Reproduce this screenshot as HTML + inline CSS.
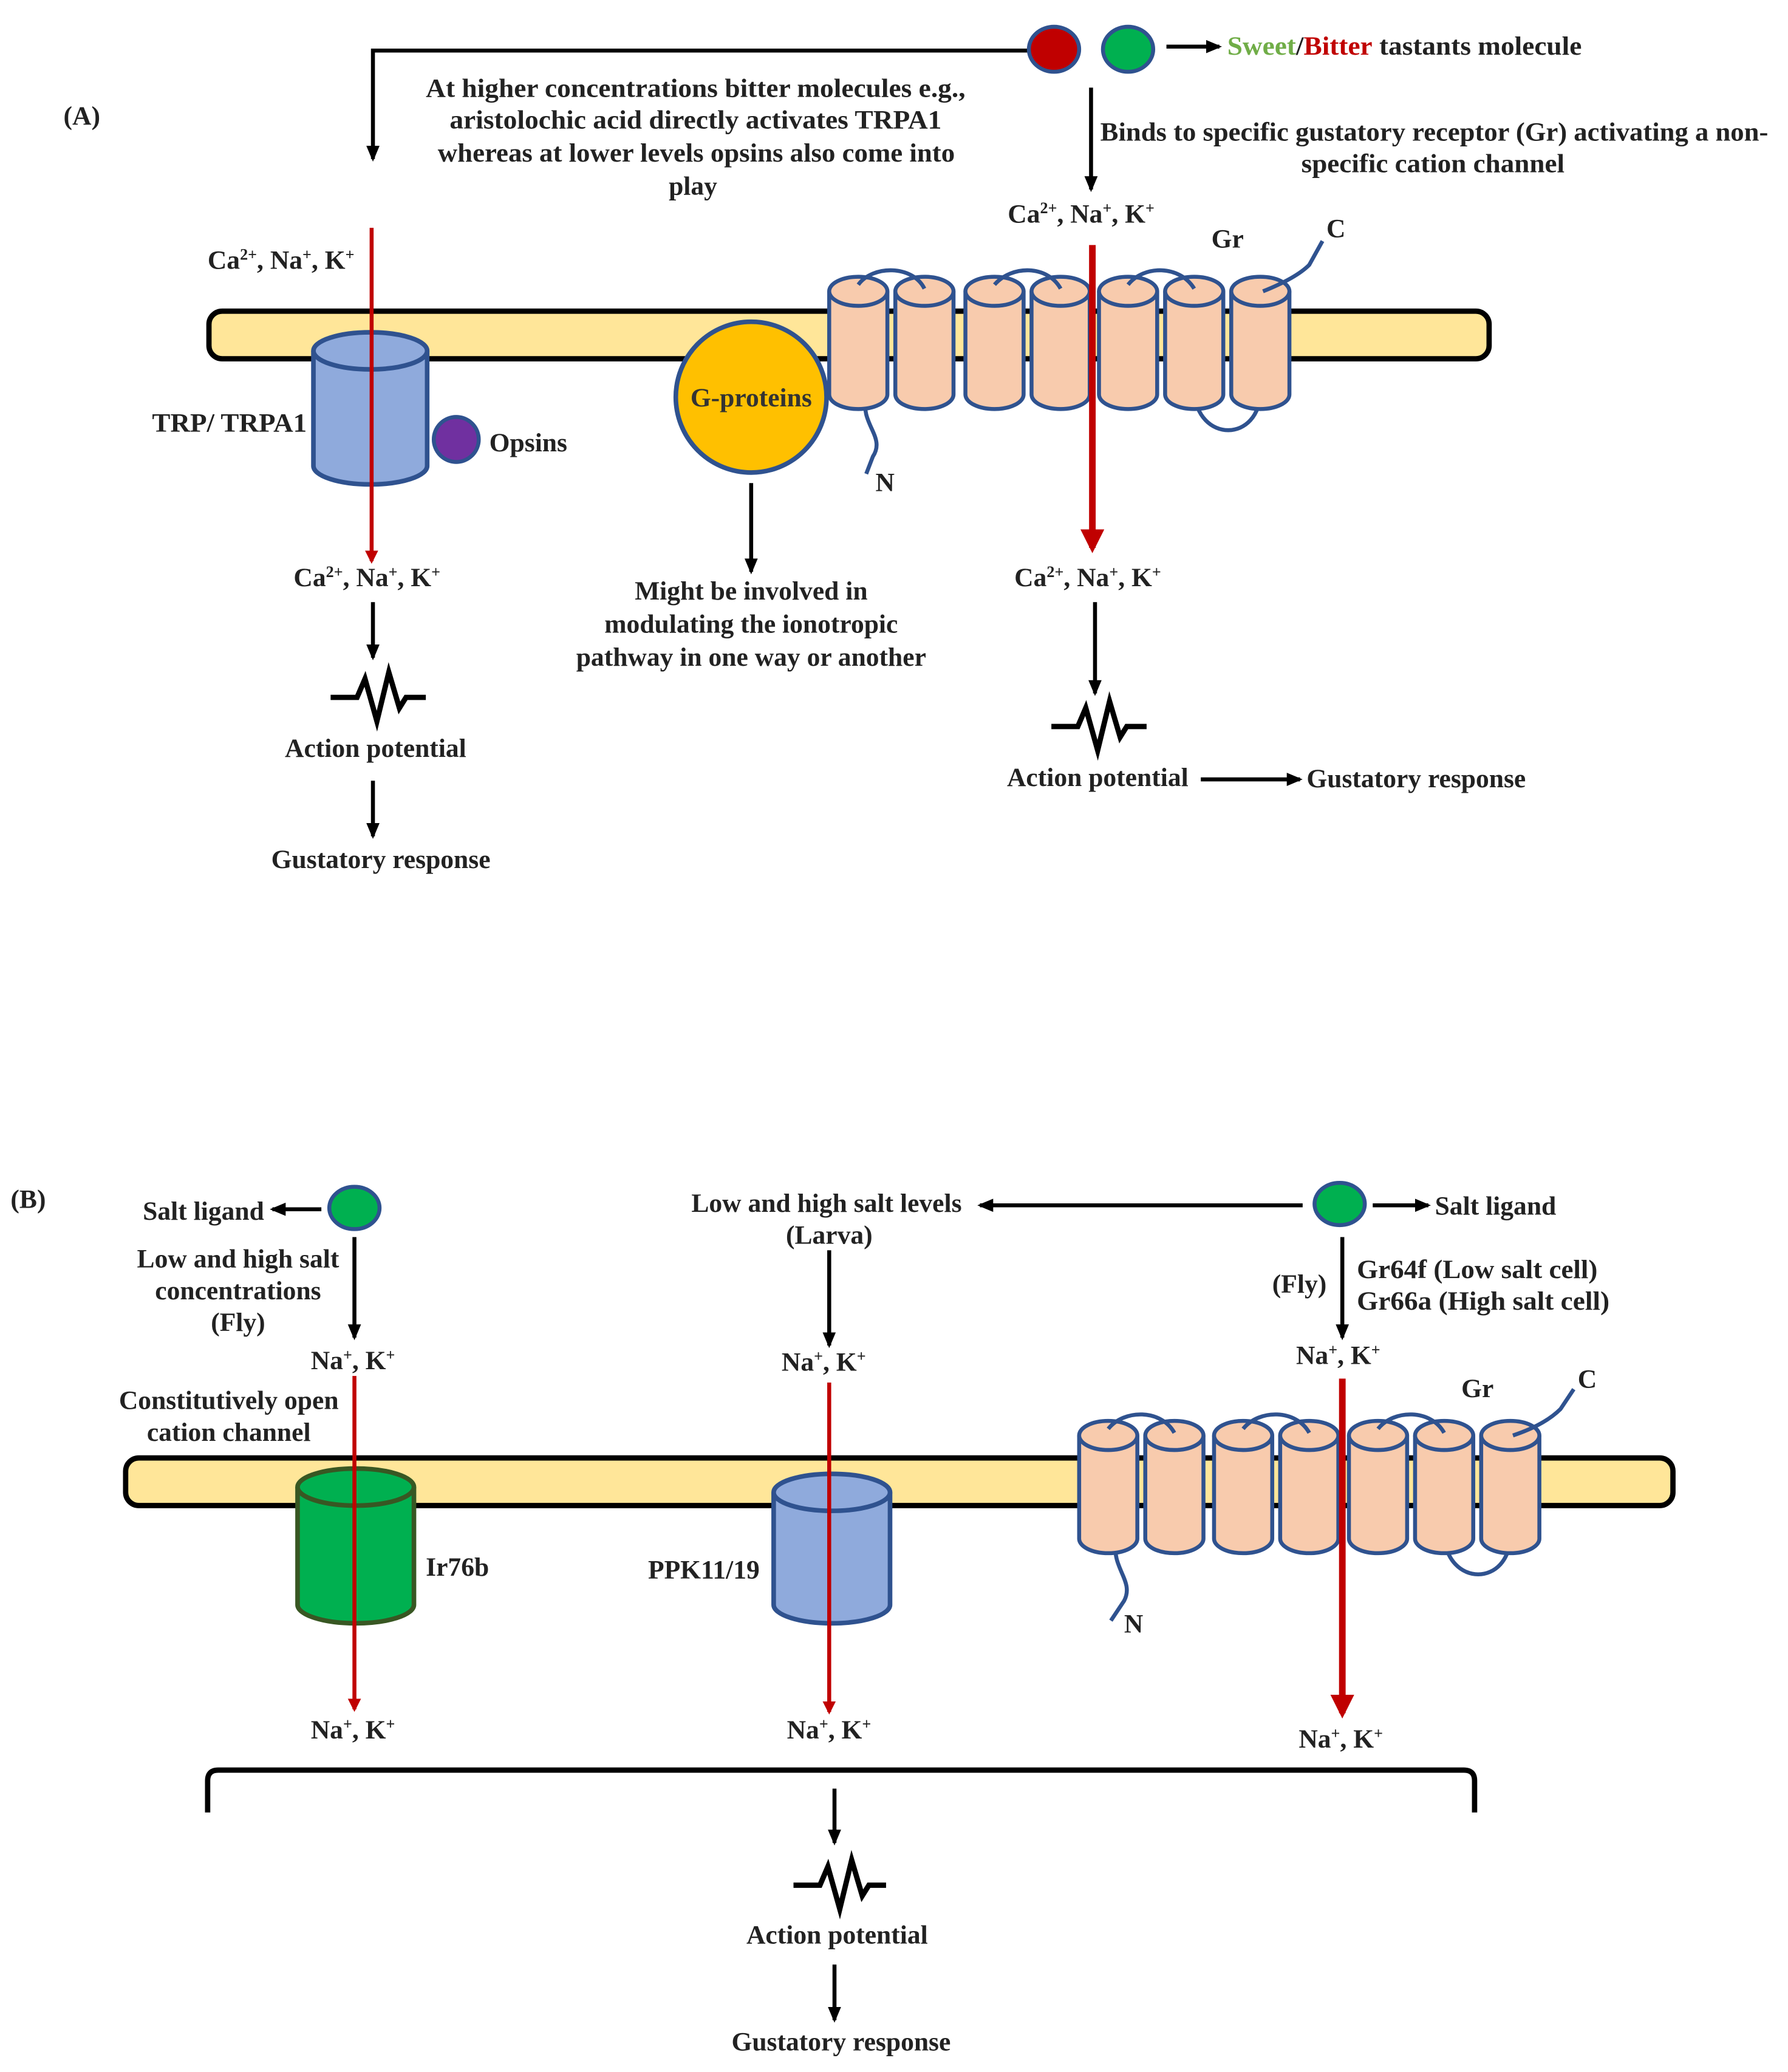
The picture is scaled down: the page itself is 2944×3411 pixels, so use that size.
<!DOCTYPE html>
<html><head><meta charset="utf-8"><style>
html,body{margin:0;padding:0;background:#fff}
svg{display:block}
text{font-family:"Liberation Serif",serif;font-weight:bold;font-size:20px;fill:#222}
</style></head><body>
<svg width="2944" height="3411" viewBox="0 0 1352 1566" xmlns="http://www.w3.org/2000/svg">
<defs>
<marker id="ahk" markerWidth="12" markerHeight="10" refX="10" refY="5" orient="auto" markerUnits="userSpaceOnUse"><path d="M0,0 L12,5 L0,10 z" fill="#000"/></marker>
<marker id="ar" markerWidth="10" markerHeight="10" refX="8" refY="5" orient="auto" markerUnits="userSpaceOnUse"><path d="M0,0 L10,5 L0,10 z" fill="#c00000"/></marker>
<marker id="ar2" markerWidth="18" markerHeight="18" refX="14" refY="9" orient="auto" markerUnits="userSpaceOnUse"><path d="M0,0 L18,9 L0,18 z" fill="#c00000"/></marker>
<g id="grcyl">
<path d="M-22,0 L-22,78 A22,11 0 0 0 22,78 L22,0" fill="#f8cbad" stroke="#2f528f" stroke-width="3"/>
<ellipse cx="0" cy="0" rx="22" ry="11" fill="#f8cbad" stroke="#2f528f" stroke-width="3"/>
</g>
</defs>

<!-- Panel A -->
<text x="48" y="94" font-size="18">(A)</text>
<path d="M780,38 H282 V120" fill="none" stroke="#000" stroke-width="3" marker-end="url(#ahk)"/>
<ellipse cx="797" cy="37" rx="19" ry="17" fill="#c00000" stroke="#2f528f" stroke-width="3"/>
<ellipse cx="853" cy="37" rx="19" ry="17" fill="#00b050" stroke="#2f528f" stroke-width="3"/>
<line x1="882" y1="35" x2="922" y2="35" stroke="#000" stroke-width="3" marker-end="url(#ahk)"/>
<text x="928" y="41" textLength="268" lengthAdjust="spacingAndGlyphs"><tspan style="fill:#70ad47">Sweet</tspan><tspan style="fill:#222">/</tspan><tspan style="fill:#c00000">Bitter</tspan> tastants molecule</text>
<text x="322" y="73" textLength="408" lengthAdjust="spacingAndGlyphs">At higher concentrations bitter molecules e.g.,</text>
<text x="340" y="97" textLength="372" lengthAdjust="spacingAndGlyphs">aristolochic acid directly activates TRPA1</text>
<text x="331" y="122" textLength="391" lengthAdjust="spacingAndGlyphs">whereas at lower levels opsins also come into</text>
<text x="524" y="147" text-anchor="middle">play</text>
<line x1="825" y1="66" x2="825" y2="143" stroke="#000" stroke-width="3" marker-end="url(#ahk)"/>
<text x="832" y="106" textLength="505" lengthAdjust="spacingAndGlyphs">Binds to specific gustatory receptor (Gr) activating a non-</text>
<text x="984" y="130" textLength="199" lengthAdjust="spacingAndGlyphs">specific cation channel</text>
<text x="762" y="168">Ca<tspan font-size="12" dy="-7">2+</tspan><tspan dy="7">, Na</tspan><tspan font-size="12" dy="-7">+</tspan><tspan dy="7">, K</tspan><tspan font-size="12" dy="-7">+</tspan></text>

<rect x="158" y="235" width="968" height="36" rx="10" fill="#ffe699" stroke="#000" stroke-width="4"/>

<path d="M237,265 V352 A43,14 0 0 0 323,352 V265" fill="#8faadc" stroke="#2f528f" stroke-width="3.5"/>
<ellipse cx="280" cy="265" rx="43" ry="14" fill="#8faadc" stroke="#2f528f" stroke-width="3.5"/>
<line x1="281" y1="172" x2="281" y2="424" stroke="#c00000" stroke-width="3" marker-end="url(#ar)"/>
<text x="157" y="203">Ca<tspan font-size="12" dy="-7">2+</tspan><tspan dy="7">, Na</tspan><tspan font-size="12" dy="-7">+</tspan><tspan dy="7">, K</tspan><tspan font-size="12" dy="-7">+</tspan></text>
<text x="115" y="326" textLength="117" lengthAdjust="spacingAndGlyphs">TRP/ TRPA1</text>
<circle cx="345" cy="332" r="17" fill="#7030a0" stroke="#2f528f" stroke-width="3"/>
<text x="370" y="341">Opsins</text>
<text x="222" y="443">Ca<tspan font-size="12" dy="-7">2+</tspan><tspan dy="7">, Na</tspan><tspan font-size="12" dy="-7">+</tspan><tspan dy="7">, K</tspan><tspan font-size="12" dy="-7">+</tspan></text>
<line x1="282" y1="455" x2="282" y2="497" stroke="#000" stroke-width="3" marker-end="url(#ahk)"/>
<path d="M250,527 H270 L276,513 L285,545 L294,508 L302,535 L307,527 H322" fill="none" stroke="#000" stroke-width="4"/>
<text x="284" y="572" text-anchor="middle">Action potential</text>
<line x1="282" y1="590" x2="282" y2="632" stroke="#000" stroke-width="3" marker-end="url(#ahk)"/>
<text x="288" y="656" text-anchor="middle">Gustatory response</text>

<circle cx="568" cy="300" r="57" fill="#ffc000" stroke="#2f528f" stroke-width="3.5"/>
<text x="568" y="307" text-anchor="middle" style="fill:#333">G-proteins</text>
<line x1="568" y1="365" x2="568" y2="432" stroke="#000" stroke-width="3" marker-end="url(#ahk)"/>
<g text-anchor="middle">
<text x="568" y="453">Might be involved in</text>
<text x="568" y="478">modulating the ionotropic</text>
<text x="568" y="503">pathway in one way or another</text>
</g>

<path d="M903,295 C905,335 953,335 953,295" fill="none" stroke="#2f528f" stroke-width="3"/>
<path d="M655,300 C650,320 670,330 660,345 L655,358" fill="none" stroke="#2f528f" stroke-width="3"/>
<use href="#grcyl" x="649" y="220"/>
<use href="#grcyl" x="699" y="220"/>
<use href="#grcyl" x="752" y="220"/>
<use href="#grcyl" x="802" y="220"/>
<use href="#grcyl" x="853" y="220"/>
<use href="#grcyl" x="903" y="220"/>
<use href="#grcyl" x="953" y="220"/>
<path d="M649,215 C660,200 690,200 699,218 M752,215 C765,200 792,200 802,218 M853,215 C865,200 892,200 903,218 M955,220 C975,212 985,205 990,200 L1000,182" fill="none" stroke="#2f528f" stroke-width="3"/>
<text x="662" y="371">N</text>
<text x="1003" y="179">C</text>
<text x="916" y="187">Gr</text>
<line x1="826" y1="185" x2="826" y2="414" stroke="#c00000" stroke-width="5" marker-end="url(#ar2)"/>
<text x="767" y="443">Ca<tspan font-size="12" dy="-7">2+</tspan><tspan dy="7">, Na</tspan><tspan font-size="12" dy="-7">+</tspan><tspan dy="7">, K</tspan><tspan font-size="12" dy="-7">+</tspan></text>
<line x1="828" y1="455" x2="828" y2="524" stroke="#000" stroke-width="3" marker-end="url(#ahk)"/>
<path d="M795,549 H815 L821,535 L830,567 L839,530 L847,557 L852,549 H867" fill="none" stroke="#000" stroke-width="4"/>
<text x="830" y="594" text-anchor="middle">Action potential</text>
<line x1="908" y1="589" x2="983" y2="589" stroke="#000" stroke-width="3" marker-end="url(#ahk)"/>
<text x="988" y="595">Gustatory response</text>

<!-- Panel B -->
<text x="8" y="913" font-size="18">(B)</text>
<text x="108" y="922">Salt ligand</text>
<line x1="243" y1="914" x2="206" y2="914" stroke="#000" stroke-width="3" marker-end="url(#ahk)"/>
<ellipse cx="268" cy="913" rx="19" ry="16" fill="#00b050" stroke="#2f528f" stroke-width="3"/>
<line x1="268" y1="935" x2="268" y2="1011" stroke="#000" stroke-width="3" marker-end="url(#ahk)"/>
<g text-anchor="middle">
<text x="180" y="958">Low and high salt</text>
<text x="180" y="982">concentrations</text>
<text x="180" y="1006">(Fly)</text>
<text x="173" y="1065">Constitutively open</text>
<text x="173" y="1089">cation channel</text>
<text x="625" y="916">Low and high salt levels</text>
<text x="627" y="940">(Larva)</text>
</g>
<text x="235" y="1035">Na<tspan font-size="12" dy="-7">+</tspan><tspan dy="7">, K</tspan><tspan font-size="12" dy="-7">+</tspan></text>

<rect x="95" y="1102" width="1170" height="36" rx="10" fill="#ffe699" stroke="#000" stroke-width="4"/>

<path d="M225,1124 V1213 A44,14 0 0 0 313,1213 V1124" fill="#00b050" stroke="#385723" stroke-width="3.5"/>
<ellipse cx="269" cy="1124" rx="44" ry="14" fill="#00b050" stroke="#385723" stroke-width="3.5"/>
<text x="322" y="1191">Ir76b</text>
<line x1="268" y1="1040" x2="268" y2="1292" stroke="#c00000" stroke-width="3" marker-end="url(#ar)"/>
<text x="235" y="1314">Na<tspan font-size="12" dy="-7">+</tspan><tspan dy="7">, K</tspan><tspan font-size="12" dy="-7">+</tspan></text>

<line x1="985" y1="911" x2="741" y2="911" stroke="#000" stroke-width="3" marker-end="url(#ahk)"/>
<ellipse cx="1013" cy="910" rx="19" ry="16" fill="#00b050" stroke="#2f528f" stroke-width="3"/>
<line x1="1038" y1="911" x2="1080" y2="911" stroke="#000" stroke-width="3" marker-end="url(#ahk)"/>
<text x="1085" y="918">Salt ligand</text>

<line x1="627" y1="945" x2="627" y2="1017" stroke="#000" stroke-width="3" marker-end="url(#ahk)"/>
<text x="591" y="1036">Na<tspan font-size="12" dy="-7">+</tspan><tspan dy="7">, K</tspan><tspan font-size="12" dy="-7">+</tspan></text>
<path d="M585,1128 V1213 A44,14 0 0 0 673,1213 V1128" fill="#8faadc" stroke="#2f528f" stroke-width="3.5"/>
<ellipse cx="629" cy="1128" rx="44" ry="14" fill="#8faadc" stroke="#2f528f" stroke-width="3.5"/>
<text x="490" y="1193">PPK11/19</text>
<line x1="627" y1="1045" x2="627" y2="1294" stroke="#c00000" stroke-width="3" marker-end="url(#ar)"/>
<text x="595" y="1314">Na<tspan font-size="12" dy="-7">+</tspan><tspan dy="7">, K</tspan><tspan font-size="12" dy="-7">+</tspan></text>

<line x1="1015" y1="935" x2="1015" y2="1011" stroke="#000" stroke-width="3" marker-end="url(#ahk)"/>
<text x="962" y="977">(Fly)</text>
<text x="1026" y="966" textLength="182" lengthAdjust="spacingAndGlyphs">Gr64f (Low salt cell)</text>
<text x="1026" y="990" textLength="191" lengthAdjust="spacingAndGlyphs">Gr66a (High salt cell)</text>
<text x="980" y="1031">Na<tspan font-size="12" dy="-7">+</tspan><tspan dy="7">, K</tspan><tspan font-size="12" dy="-7">+</tspan></text>

<path d="M1092,1160 C1094,1200 1142,1200 1142,1160" fill="none" stroke="#2f528f" stroke-width="3"/>
<path d="M844,1165 C840,1185 858,1195 850,1210 L840,1225" fill="none" stroke="#2f528f" stroke-width="3"/>
<use href="#grcyl" x="838" y="1085"/>
<use href="#grcyl" x="888" y="1085"/>
<use href="#grcyl" x="940" y="1085"/>
<use href="#grcyl" x="990" y="1085"/>
<use href="#grcyl" x="1042" y="1085"/>
<use href="#grcyl" x="1092" y="1085"/>
<use href="#grcyl" x="1142" y="1085"/>
<path d="M838,1080 C850,1065 878,1065 888,1083 M940,1080 C952,1065 980,1065 990,1083 M1042,1080 C1054,1065 1082,1065 1092,1083 M1144,1085 C1165,1078 1175,1070 1180,1065 L1190,1050" fill="none" stroke="#2f528f" stroke-width="3"/>
<text x="850" y="1234">N</text>
<text x="1193" y="1049">C</text>
<text x="1105" y="1056">Gr</text>
<line x1="1015" y1="1042" x2="1015" y2="1295" stroke="#c00000" stroke-width="5" marker-end="url(#ar2)"/>
<text x="982" y="1321">Na<tspan font-size="12" dy="-7">+</tspan><tspan dy="7">, K</tspan><tspan font-size="12" dy="-7">+</tspan></text>

<path d="M157,1370 V1346 Q157,1338 165,1338 H1107 Q1115,1338 1115,1346 V1370" fill="none" stroke="#000" stroke-width="4"/>
<line x1="631" y1="1352" x2="631" y2="1393" stroke="#000" stroke-width="3" marker-end="url(#ahk)"/>
<path d="M600,1425 H620 L626,1411 L635,1443 L644,1406 L652,1433 L657,1425 H670" fill="none" stroke="#000" stroke-width="4"/>
<text x="633" y="1469" text-anchor="middle">Action potential</text>
<line x1="631" y1="1485" x2="631" y2="1527" stroke="#000" stroke-width="3" marker-end="url(#ahk)"/>
<text x="636" y="1550" text-anchor="middle">Gustatory response</text>
</svg>
</body></html>
